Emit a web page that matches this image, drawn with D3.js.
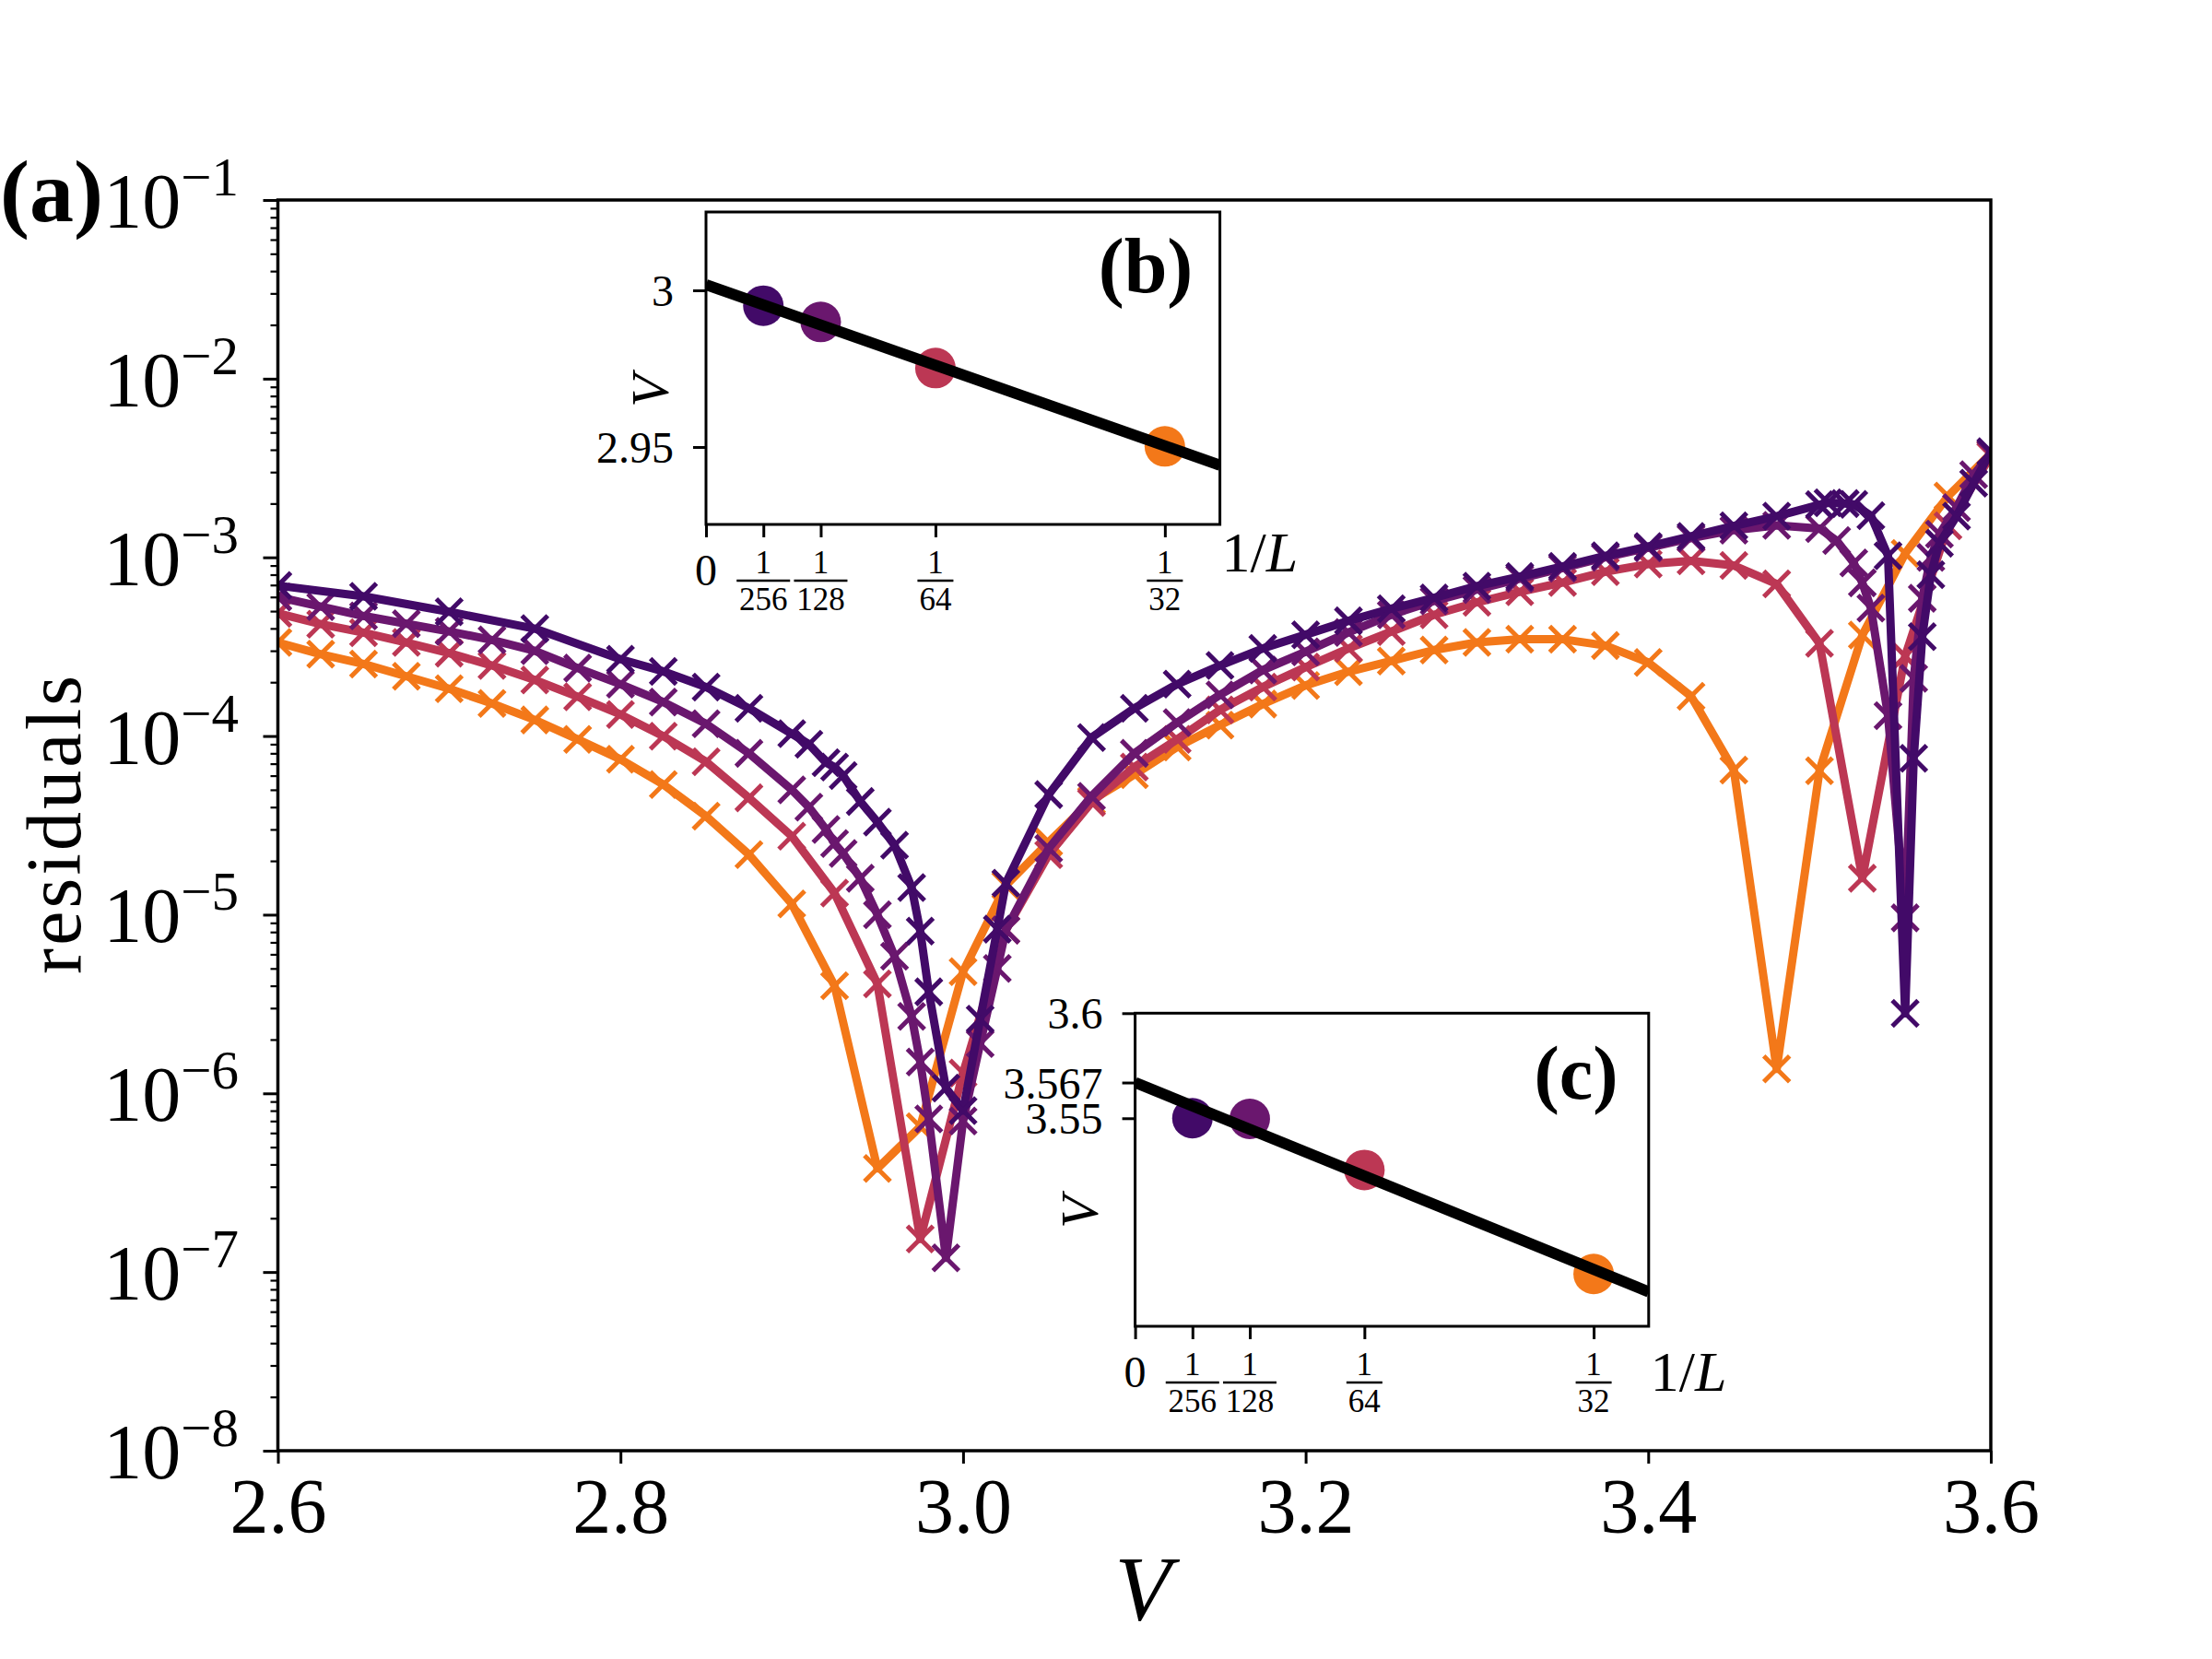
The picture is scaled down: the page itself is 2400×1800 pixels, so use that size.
<!DOCTYPE html>
<html>
<head>
<meta charset="utf-8">
<script src="https://cdn.jsdelivr.net/npm/d3@7"></script>
<style>
  body { margin: 0; background: #fff; }
  text { font-family: "Liberation Serif", "Times New Roman", serif; fill: #000; }
</style>
</head>
<body>
<svg id="fig" width="2400" height="1800"></svg>
<script>
// system sizes and their colours (inferno)
const SIZES = [32, 64, 128, 256]
const COLORS = ['#f37819', '#bc3754', '#6a176e', '#420a68']

// L=32 and L=64 share the regular grid
const V_STEP = [2.6, 2.625, 2.65, 2.675, 2.7, 2.725, 2.75, 2.775, 2.8, 2.825, 2.85, 2.875,
  2.9, 2.925, 2.95, 2.975, 3.0, 3.025, 3.05, 3.075, 3.1, 3.125, 3.15, 3.175, 3.2, 3.225,
  3.25, 3.275, 3.3, 3.325, 3.35, 3.375, 3.4, 3.425, 3.45, 3.475, 3.5, 3.525, 3.55, 3.575, 3.6]

const RES_32 = [3.34e-4, 2.87e-4, 2.53e-4, 2.16e-4, 1.84e-4, 1.52e-4, 1.23e-4, 9.58e-5, 7.41e-5, 5.35e-5, 3.56e-5, 2.17e-5,
  1.15e-5, 4.0e-6, 3.8e-7, 6.5e-7, 4.8e-6, 1.46e-5, 2.55e-5, 4.36e-5, 6.08e-5, 8.68e-5, 1.15e-4, 1.51e-4, 1.92e-4, 2.29e-4,
  2.63e-4, 3.03e-4, 3.34e-4, 3.48e-4, 3.48e-4, 3.21e-4, 2.58e-4, 1.67e-4, 6.45e-5, 1.37e-6, 6.4e-5, 3.67e-4, 1.05e-3, 2.2e-3, 3.8e-3]

const RES_64 = [4.86e-4, 4.23e-4, 3.79e-4, 3.34e-4, 2.91e-4, 2.48e-4, 2.06e-4, 1.66e-4, 1.32e-4, 9.98e-5, 7.18e-5, 4.51e-5,
  2.75e-5, 1.32e-5, 4.1e-6, 1.53e-7, 1.3e-6, 8.2e-6, 2.17e-5, 4.25e-5, 6.71e-5, 9.58e-5, 1.40e-4, 1.88e-4, 2.43e-4, 3.09e-4,
  3.84e-4, 4.77e-4, 5.6e-4, 6.42e-4, 7.23e-4, 8.31e-4, 9.17e-4, 9.55e-4, 9.0e-4, 7.1e-4, 3.3e-4, 1.6e-5, 2.8e-4, 1.5e-3, 3.7e-3]

// L=128 refined near the two minima
const V_128 = [2.6, 2.625, 2.65, 2.675, 2.7, 2.725, 2.75, 2.775, 2.8, 2.825, 2.85, 2.875,
  2.9, 2.91, 2.92, 2.925, 2.93, 2.94, 2.95, 2.96, 2.97, 2.975, 2.98, 2.99, 3.0, 3.01, 3.02, 3.025,
  3.05, 3.075, 3.1, 3.125, 3.15, 3.175, 3.2, 3.225, 3.25, 3.275, 3.3, 3.325, 3.35, 3.375, 3.4, 3.425, 3.45, 3.475, 3.5,
  3.51, 3.52, 3.525, 3.53, 3.54, 3.55, 3.555, 3.56, 3.565, 3.57, 3.58, 3.59, 3.6]
const RES_128 = [6.0e-4, 5.3e-4, 4.7e-4, 4.25e-4, 3.85e-4, 3.45e-4, 3.0e-4, 2.4e-4, 1.95e-4, 1.55e-4, 1.17e-4, 8.0e-5,
  5.0e-5, 4.0e-5, 3.0e-5, 2.5e-5, 2.2e-5, 1.6e-5, 1.0e-5, 5.85e-6, 2.7e-6, 1.5e-6, 7.2e-7, 1.2e-7, 7.0e-7, 1.9e-6, 5.0e-6, 8.2e-6,
  2.35e-5, 4.6e-5, 8.0e-5, 1.19e-4, 1.7e-4, 2.34e-4, 2.96e-4, 3.8e-4, 4.77e-4, 5.7e-4, 6.6e-4, 7.6e-4, 8.7e-4, 1.0e-3, 1.13e-3, 1.28e-3, 1.42e-3, 1.51e-3, 1.45e-3,
  1.24e-3, 9.3e-4, 7.2e-4, 5.2e-4, 1.3e-4, 9.6e-6, 2.1e-4, 5.9e-4, 1.0e-3, 1.35e-3, 1.9e-3, 2.9e-3, 3.8e-3]

// L=256
const V_256 = [2.6, 2.65, 2.7, 2.75, 2.8, 2.825, 2.85, 2.875,
  2.9, 2.91, 2.92, 2.925, 2.93, 2.94, 2.95, 2.96, 2.97, 2.975, 2.98, 2.99, 3.0, 3.01, 3.02, 3.025,
  3.05, 3.075, 3.1, 3.125, 3.15, 3.175, 3.2, 3.225, 3.25, 3.275, 3.3, 3.325, 3.35, 3.375, 3.4, 3.425, 3.45, 3.475, 3.5,
  3.505, 3.515, 3.52, 3.53, 3.54, 3.55, 3.555, 3.56, 3.565, 3.57, 3.58, 3.59, 3.6]
const RES_256 = [6.95e-4, 6.05e-4, 4.96e-4, 3.99e-4, 2.69e-4, 2.3e-4, 1.88e-4, 1.43e-4,
  1.03e-4, 9.0e-5, 7.1e-5, 6.7e-5, 6.0e-5, 4.3e-5, 3.3e-5, 2.45e-5, 1.42e-5, 8.1e-6, 3.7e-6, 1.07e-6, 8.0e-7, 2.6e-6, 8.3e-6, 1.5e-5,
  4.7e-5, 9.8e-5, 1.43e-4, 1.95e-4, 2.48e-4, 3.09e-4, 3.69e-4, 4.41e-4, 5.16e-4, 5.93e-4, 6.9e-4, 7.8e-4, 8.9e-4, 1.02e-3, 1.15e-3, 1.31e-3, 1.5e-3, 1.7e-3, 1.97e-3,
  2.02e-3, 2.0e-3, 1.98e-3, 1.71e-3, 1.02e-3, 2.8e-6, 7.5e-5, 3.6e-4, 8e-4, 1.2e-3, 1.7e-3, 2.6e-3, 3.9e-3]

const X_TICKS = [2.6, 2.8, 3.0, 3.2, 3.4, 3.6]
const Y_EXPONENTS = [-8, -7, -6, -5, -4, -3, -2, -1]

// insets: extrapolation of the minima in 1/L
const INV_L = [1 / 256, 1 / 128, 1 / 64, 1 / 32]
const INV_L_SIZES = [256, 128, 64, 32]
const V_MIN_LOW = [2.9951, 2.9899, 2.9752, 2.9502]
const V_MIN_HIGH = [3.55, 3.5497, 3.5254, 3.4759]
const FIT_LOW = [3.0018, -1.646]   // intercept, slope
const FIT_HIGH = [3.567, -2.846]
const TICKS_LOW = [2.95, 3]
const LABELS_LOW = ['2.95', '3']
const TICKS_HIGH = [3.55, 3.567, 3.6]
const LABELS_HIGH = ['3.55', '3.567', '3.6']

const FONT = '"Liberation Serif", "Times New Roman", serif'
const svg = d3.select('#fig')
const defs = svg.append('defs')

// ---- main panel
const box = { left: 301.5, right: 2160, top: 217, bottom: 1574 }
const x = d3.scaleLinear().domain([2.6, 3.6]).range([box.left, box.right])
const y = d3.scaleLog().domain([1e-8, 1e-1]).range([box.bottom, box.top])

defs.append('clipPath').attr('id', 'clipMain')
  .append('rect')
  .attr('x', box.left).attr('y', box.top)
  .attr('width', box.right - box.left).attr('height', box.bottom - box.top)

const series = [
  { v: V_STEP, r: RES_32, color: COLORS[0] },
  { v: V_STEP, r: RES_64, color: COLORS[1] },
  { v: V_128, r: RES_128, color: COLORS[2] },
  { v: V_256, r: RES_256, color: COLORS[3] }
]

const plot = svg.append('g').attr('clip-path', 'url(#clipMain)')
const line = d3.line().x(d => x(d[0])).y(d => y(d[1]))

series.forEach(s => {
  const pts = s.v.map((v, i) => [v, s.r[i]])
  plot.append('path')
    .datum(pts)
    .attr('d', line)
    .attr('fill', 'none')
    .attr('stroke', s.color)
    .attr('stroke-width', 9)
    .attr('stroke-linejoin', 'round')

  plot.selectAll(null)
    .data(pts)
    .enter()
    .append('path')
    .attr('d', 'M-14,-14L14,14M-14,14L14,-14')
    .attr('transform', d => `translate(${x(d[0])},${y(d[1])})`)
    .attr('stroke', s.color)
    .attr('stroke-width', 5)
})

// frame
svg.append('rect')
  .attr('x', box.left).attr('y', box.top)
  .attr('width', box.right - box.left).attr('height', box.bottom - box.top)
  .attr('fill', 'none').attr('stroke', '#000').attr('stroke-width', 3.5)

// x axis
svg.append('g')
  .attr('transform', `translate(0,${box.bottom})`)
  .call(d3.axisBottom(x).tickValues(X_TICKS).tickSize(14).tickPadding(15).tickFormat(d3.format('.1f')))
  .attr('font-size', 84).attr('font-family', FONT)
  .call(g => g.select('.domain').remove())
  .call(g => g.selectAll('line').attr('stroke-width', 3))

// y axis: decades + minor ticks
const minor = []
Y_EXPONENTS.slice(0, -1).forEach(e => {
  for (let k = 2; k < 10; k++) minor.push(k * Math.pow(10, e))
})
svg.append('g')
  .attr('transform', `translate(${box.left},0)`)
  .call(d3.axisLeft(y).tickValues(Y_EXPONENTS.map(e => Math.pow(10, e))).tickSize(16).tickFormat(''))
  .call(g => g.select('.domain').remove())
  .call(g => g.selectAll('line').attr('stroke-width', 3))
svg.append('g')
  .attr('transform', `translate(${box.left},0)`)
  .call(d3.axisLeft(y).tickValues(minor).tickSize(8).tickFormat(''))
  .call(g => g.select('.domain').remove())
  .call(g => g.selectAll('line').attr('stroke-width', 2.2))

Y_EXPONENTS.forEach(e => {
  const t = svg.append('text')
    .attr('x', 259)
    .attr('y', y(Math.pow(10, e)) + 30)
    .attr('text-anchor', 'end')
    .attr('font-size', 84)
  t.append('tspan').text('10')
  t.append('tspan').attr('font-size', 59).attr('dy', -35).text('\u2212' + Math.abs(e))
})

// axis labels
svg.append('text')
  .attr('x', 1240).attr('y', 1757)
  .attr('text-anchor', 'middle')
  .attr('font-size', 100)
  .attr('font-style', 'italic')
  .text('V')

svg.append('text')
  .attr('transform', 'translate(87,895) rotate(-90)')
  .attr('text-anchor', 'middle')
  .attr('font-size', 84)
  .attr('textLength', 324)
  .text('residuals')

svg.append('text')
  .attr('x', 0).attr('y', 240)
  .attr('font-size', 96)
  .attr('font-weight', 'bold')
  .text('(a)')

// ---- insets
function drawInset(cfg) {
  const ix = d3.scaleLinear().domain([0, 0.035]).range([cfg.left, cfg.right])
  const iy = d3.scaleLinear().domain(cfg.yDomain).range([cfg.bottom, cfg.top])
  const g = svg.append('g')

  g.append('rect')
    .attr('x', cfg.left).attr('y', cfg.top)
    .attr('width', cfg.right - cfg.left).attr('height', cfg.bottom - cfg.top)
    .attr('fill', '#fff')

  defs.append('clipPath').attr('id', 'clip' + cfg.id)
    .append('rect')
    .attr('x', cfg.left).attr('y', cfg.top)
    .attr('width', cfg.right - cfg.left).attr('height', cfg.bottom - cfg.top)

  const inner = g.append('g').attr('clip-path', `url(#clip${cfg.id})`)

  inner.selectAll('circle')
    .data(INV_L.map((v, i) => ({ v, V: cfg.vals[i], size: INV_L_SIZES[i] })))
    .enter()
    .append('circle')
    .attr('cx', d => ix(d.v))
    .attr('cy', d => iy(d.V))
    .attr('r', 22)
    .attr('fill', d => COLORS[SIZES.indexOf(d.size)])

  const fitEnds = [0, 0.035].map(v => [v, cfg.fit[0] + cfg.fit[1] * v])
  inner.append('path')
    .datum(fitEnds)
    .attr('d', d3.line().x(d => ix(d[0])).y(d => iy(d[1])))
    .attr('stroke', '#000')
    .attr('stroke-width', 12)
    .attr('fill', 'none')

  g.append('rect')
    .attr('x', cfg.left).attr('y', cfg.top)
    .attr('width', cfg.right - cfg.left).attr('height', cfg.bottom - cfg.top)
    .attr('fill', 'none').attr('stroke', '#000').attr('stroke-width', 3)

  g.append('g')
    .attr('transform', `translate(0,${cfg.bottom})`)
    .call(d3.axisBottom(ix).tickValues([0].concat(INV_L)).tickSize(14).tickFormat(''))
    .call(a => a.select('.domain').remove())
    .call(a => a.selectAll('line').attr('stroke-width', 3))

  g.append('g')
    .attr('transform', `translate(${cfg.left},0)`)
    .call(d3.axisLeft(iy).tickValues(cfg.yTicks).tickSize(14).tickFormat(''))
    .call(a => a.select('.domain').remove())
    .call(a => a.selectAll('line').attr('stroke-width', 3))

  // y tick labels
  cfg.yTicks.forEach((t, i) => {
    g.append('text')
      .attr('x', cfg.left - 35)
      .attr('y', iy(t) + 17)
      .attr('text-anchor', 'end')
      .attr('font-size', 48)
      .text(cfg.yLabels[i])
  })

  // x tick labels: 0 and fractions 1/L
  g.append('text')
    .attr('x', ix(0)).attr('y', cfg.bottom + 66)
    .attr('text-anchor', 'middle')
    .attr('font-size', 48)
    .text('0')

  INV_L.forEach((v, i) => {
    const den = String(INV_L_SIZES[i])
    const cx = ix(v)
    const w = den.length * 19 + 1
    g.append('text')
      .attr('x', cx).attr('y', cfg.bottom + 53)
      .attr('text-anchor', 'middle').attr('font-size', 35)
      .text('1')
    g.append('line')
      .attr('x1', cx - w / 2).attr('x2', cx + w / 2)
      .attr('y1', cfg.bottom + 61).attr('y2', cfg.bottom + 61)
      .attr('stroke', '#000').attr('stroke-width', 2.5)
    g.append('text')
      .attr('x', cx).attr('y', cfg.bottom + 93)
      .attr('text-anchor', 'middle').attr('font-size', 35)
      .text(den)
  })

  // 1/L label
  const xl = g.append('text')
    .attr('x', cfg.right + 2).attr('y', cfg.invLY)
    .attr('font-size', 62)
  xl.append('tspan').text('1/')
  xl.append('tspan').attr('font-style', 'italic').text('L')

  // V label
  g.append('text')
    .attr('transform', `translate(${cfg.left - 41},${cfg.vLabelY}) rotate(-90)`)
    .attr('text-anchor', 'middle')
    .attr('font-size', 58)
    .attr('font-style', 'italic')
    .text('V')

  // panel tag
  g.append('text')
    .attr('x', cfg.tagX).attr('y', cfg.tagY)
    .attr('text-anchor', 'middle')
    .attr('font-size', cfg.tagSize)
    .attr('font-weight', 'bold')
    .text(cfg.tag)
}

drawInset({
  id: 'B', left: 766, right: 1323.6, top: 230, bottom: 569,
  yDomain: [2.9253, 3.025], yTicks: TICKS_LOW, yLabels: LABELS_LOW,
  vals: V_MIN_LOW, fit: FIT_LOW,
  invLY: 620, vLabelY: 424,
  tag: '(b)', tagX: 1243, tagY: 317, tagSize: 84
})

drawInset({
  id: 'C', left: 1231.6, right: 1788.8, top: 1099.3, bottom: 1439,
  yDomain: [3.451, 3.6], yTicks: TICKS_HIGH, yLabels: LABELS_HIGH,
  vals: V_MIN_HIGH, fit: FIT_HIGH,
  invLY: 1509, vLabelY: 1315,
  tag: '(c)', tagX: 1710, tagY: 1192, tagSize: 82
})
</script>
</body>
</html>
